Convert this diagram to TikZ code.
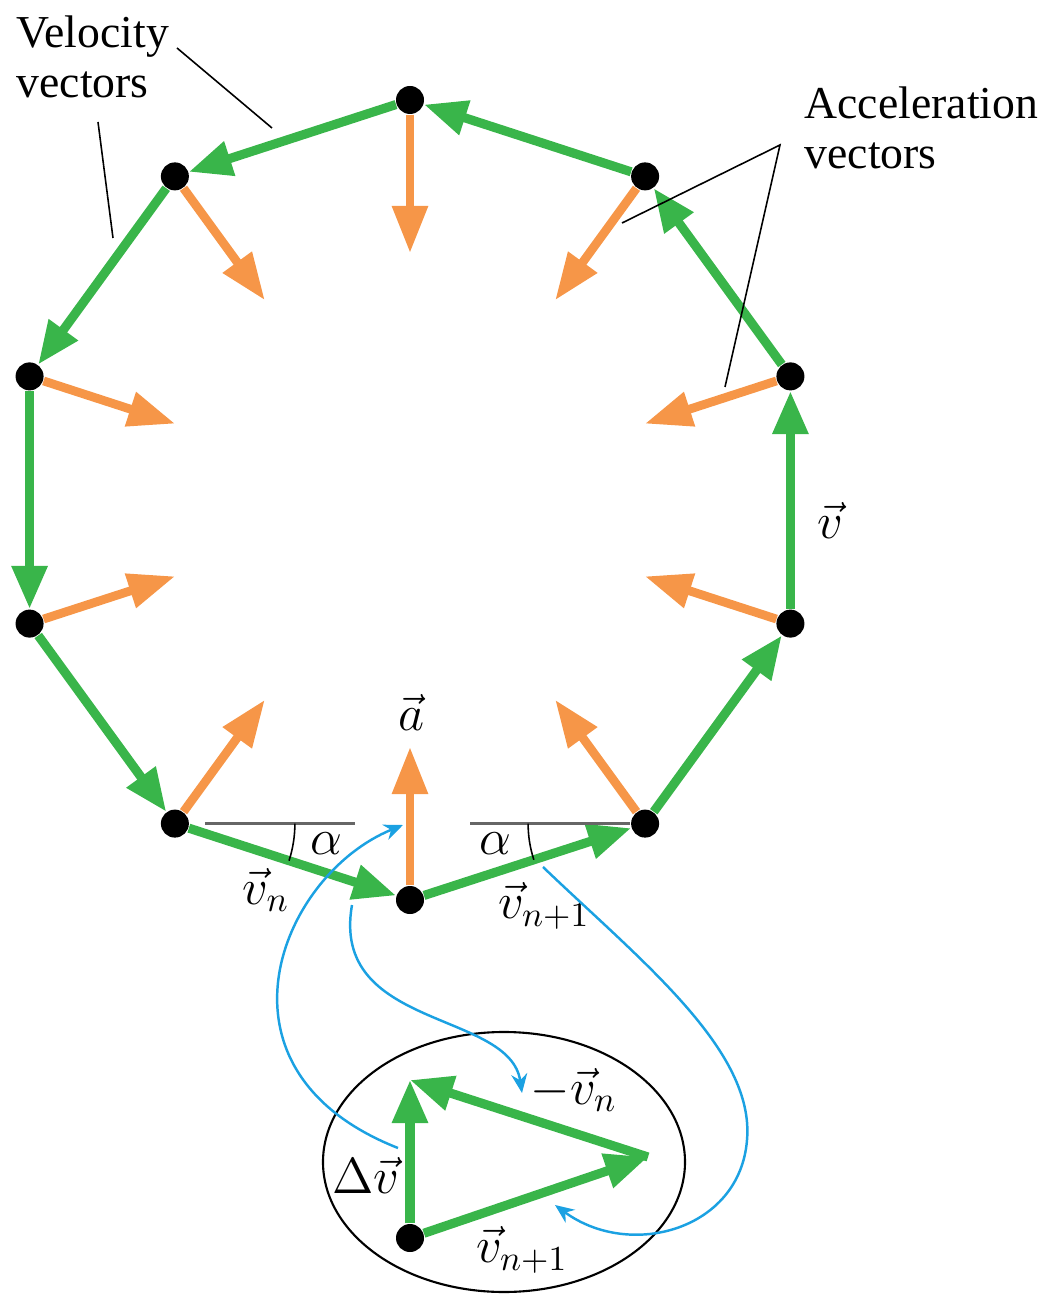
\documentclass[tikz,border=0pt]{standalone}
\usepackage{fontspec}
\setmainfont{Liberation Serif}
\usetikzlibrary{arrows.meta}
\definecolor{velgreen}{RGB}{57,181,74}
\definecolor{accorange}{RGB}{246,150,72}
\definecolor{hintblue}{RGB}{27,161,226}
\tikzset{velarrow/.style={draw=velgreen,line width=2.6pt,-{Triangle[length=4.3mm,width=3.4mm]}},
         accarrow/.style={draw=accorange,line width=2.5pt,-{Triangle[length=4.7mm,width=3.4mm]}},
         dot/.style={circle,fill=black,inner sep=0pt,minimum size=2.8mm},
         pointer/.style={draw=black,line width=0.45pt},
         refline/.style={draw=black!60,line width=0.7pt},
         hintarrow/.style={draw=hintblue,line width=0.7pt,-{Stealth[length=1.9mm,width=1.6mm]}},
         caption/.style={align=left,inner sep=0pt,anchor=north west},
         sym/.style={font=\fontsize{14.5}{16}\selectfont}}

\begin{document}
\begin{tikzpicture}[x=1cm,y=1cm,font=\fontsize{13}{14.3}\selectfont]
  \useasboundingbox (-4.10,-7.96) rectangle (6.38,5.00);
  % ten positions on the circle, counterclockwise from the top
  \foreach \k in {0,...,9}
    \node[dot] (p\k) at ({90+36*\k}:4) {};
  \foreach \k in {0,...,9}
    \coordinate (a\k) at ({90+36*\k}:2.47);
  \foreach \k in {0,...,9}
    \draw[accarrow] (p\k) -- (a\k);
  \foreach \k [evaluate=\k as \j using {int(mod(\k+1,10))}] in {0,...,9}
    \draw[velarrow] (p\k) -- (p\j);

  % captions and their pointer lines
  \node[caption] (vel) at (-3.94,4.85) {Velocity\\vectors};
  \node[caption] (acc) at (3.94,4.14) {Acceleration\\vectors};
  \coordinate (velA) at (-2.33,4.52);
  \coordinate (velAtip) at (-1.38,3.72);
  \coordinate (velB) at (-3.12,3.78);
  \coordinate (velBtip) at (-2.97,2.62);
  \draw[pointer] (velA) -- (velAtip);
  \draw[pointer] (velB) -- (velBtip);
  \coordinate (accV) at (3.70,3.55);
  \coordinate (accAtip) at (2.12,2.77);
  \coordinate (accBtip) at (3.15,1.13);
  \draw[pointer] (accAtip) -- (accV) -- (accBtip);

  % angle marks at the bottom
  \draw[refline] ([xshift=3mm]p4.center) -- ([xshift=18mm]p4.center);
  \draw[refline] ([xshift=-17.5mm]p6.center) -- ([xshift=-1.5mm]p6.center);
  \draw[pointer] ([xshift=12mm]p4.center) arc[start angle=0,end angle=-18,radius=1.2];
  \draw[pointer] ([xshift=-11.7mm]p6.center) arc[start angle=180,end angle=198,radius=1.17];
  \node[sym] (alphaL) at (-0.84,-3.44) {$\alpha$};
  \node[sym] (alphaR) at (0.85,-3.44) {$\alpha$};

  \node[sym] (lv) at (4.20,-0.20) {$\vec{v}$};
  \node[sym] (la) at (0.01,-2.12) {$\vec{a}$};
  \node[sym] (lvn) at (-1.44,-3.90) {$\vec{v}_n$};
  \node[sym] (lvnext) at (1.34,-4.06) {$\vec{v}_{n+1}$};

  % vector difference
  \draw[pointer,line width=0.6pt] (0.94,-6.62) ellipse [x radius=1.81,y radius=1.30];
  \node[dot] (b) at (0,-7.38) {};
  \coordinate (t) at (0,-5.80);
  \coordinate (r) at (2.38,-6.57);
  \draw[velarrow] (b) -- (t);
  \draw[velarrow] (b) -- (r);
  \draw[velarrow] (r) -- (t);
  \node[sym] (ldv) at (-0.44,-6.75) {$\Delta\vec{v}$};
  \node[sym] (lmvn) at (1.64,-5.90) {$-\vec{v}_n$};
  \node[sym] (lvnextb) at (1.12,-7.50) {$\vec{v}_{n+1}$};

  \coordinate (h1s) at (-0.12,-6.48);
  \coordinate (h1e) at (-0.07,-3.25);
  \coordinate (h2s) at (-0.58,-4.05);
  \coordinate (h2e) at (1.12,-5.93);
  \coordinate (h3s) at (1.33,-3.67);
  \coordinate (h3m) at (3.37,-6.40);
  \coordinate (h3e) at (1.45,-7.05);
  \draw[hintarrow] (h1s) .. controls (-2.1,-5.7) and (-1.3,-3.75) .. (h1e);
  \draw[hintarrow] (h2s) .. controls (-0.8,-5.3) and (1.0,-5.1) .. (h2e);
  \draw[hintarrow] (h3s) .. controls (2.3,-4.6) and (3.45,-5.5) .. (h3m)
                         .. controls (3.3,-7.3) and (2.2,-7.6) .. (h3e);
\end{tikzpicture}
\end{document}
